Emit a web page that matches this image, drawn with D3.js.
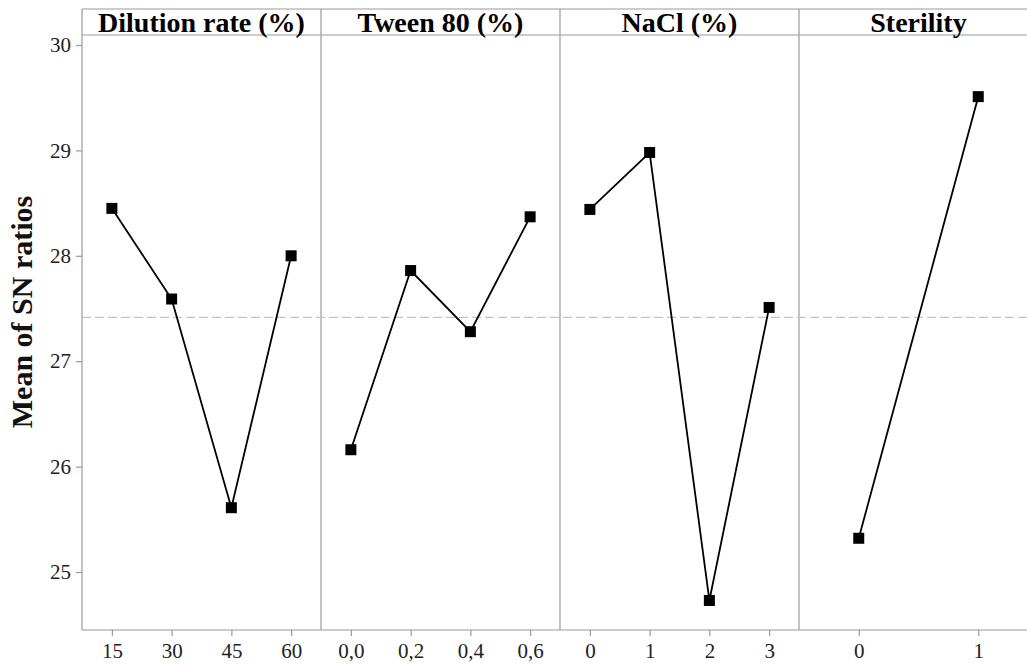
<!DOCTYPE html>
<html>
<head>
<meta charset="utf-8">
<script src="https://cdn.jsdelivr.net/npm/d3@7"></script>
<style>
  body { margin: 0; background: #fff; }
  svg { display: block; }
</style>
</head>
<body>
<div id="chart"></div>
<script>
// 因子和水平
const factors = ["Dilution rate (%)", "Tween 80 (%)", "NaCl (%)", "Sterility"];
const levels = [
  ["15", "30", "45", "60"],
  ["0,0", "0,2", "0,4", "0,6"],
  ["0", "1", "2", "3"],
  ["0", "1"]
];
// 各水平的 SN 比均值
const means = [
  [28.45, 27.59, 25.61, 28.00],
  [26.16, 27.86, 27.28, 28.37],
  [28.44, 28.98, 24.73, 27.51],
  [25.32, 29.51]
];
const grandMean = 27.415;
const yTicks = [25, 26, 27, 28, 29, 30];

const width = 1027, height = 664;
const padLeft = 82, headY0 = 9, headY1 = 35, plotBottom = 630, panelW = 239;
const frameCol = "#9a9a9a";
const serif = "'Liberation Serif', 'Times New Roman', serif";

const svg = d3.select("#chart").append("svg")
  .attr("width", width)
  .attr("height", height);

// y 比例尺
const y = d3.scaleLinear().domain([25, 30]).range([572, 45]);

// 面板边框
const padRight = padLeft + panelW * factors.length;
const frame = svg.append("g")
  .attr("fill", "none")
  .attr("stroke", frameCol)
  .attr("stroke-width", 1.2);
[headY0, headY1, plotBottom].forEach(yy => {
  frame.append("line").attr("x1", padLeft).attr("x2", padRight).attr("y1", yy).attr("y2", yy);
});
d3.range(factors.length + 1).forEach(i => {
  frame.append("line")
    .attr("x1", padLeft + i * panelW).attr("x2", padLeft + i * panelW)
    .attr("y1", headY0).attr("y2", plotBottom);
});

// 参考线（总均值）
svg.append("line")
  .attr("x1", padLeft).attr("x2", padRight)
  .attr("y1", y(grandMean)).attr("y2", y(grandMean))
  .attr("stroke", "#c4c4c4")
  .attr("stroke-width", 1.2)
  .attr("stroke-dasharray", "9,4");

// y 轴
const yAxis = svg.append("g")
  .attr("transform", `translate(${padLeft},0)`)
  .call(d3.axisLeft(y).tickValues(yTicks).tickSize(6).tickPadding(5).tickFormat(d3.format("d")));
yAxis.select(".domain").remove();
yAxis.selectAll("line").attr("stroke", frameCol).attr("stroke-width", 1.2);
yAxis.selectAll("text")
  .attr("font-family", serif)
  .attr("font-size", 21)
  .attr("fill", "#222");

// y 轴标题
svg.append("text")
  .attr("transform", "translate(32,312) rotate(-90)")
  .attr("text-anchor", "middle")
  .attr("font-family", serif)
  .attr("font-weight", "bold")
  .attr("font-size", 30)
  .attr("fill", "#111")
  .text("Mean of SN ratios");

// 各面板
factors.forEach((f, i) => {
  const x0 = padLeft + i * panelW;
  const x = d3.scalePoint()
    .domain(levels[i])
    .range([x0, x0 + panelW])
    .padding(0.5);

  // 面板标题
  svg.append("text")
    .attr("x", x0 + panelW / 2)
    .attr("y", 32)
    .attr("text-anchor", "middle")
    .attr("font-family", serif)
    .attr("font-weight", "bold")
    .attr("font-size", 28)
    .attr("fill", "#000")
    .text(f);

  // x 轴
  const xAxis = svg.append("g")
    .attr("transform", `translate(0,${plotBottom})`)
    .call(d3.axisBottom(x).tickSize(6).tickPadding(7));
  xAxis.select(".domain").remove();
  xAxis.selectAll("line").attr("stroke", frameCol).attr("stroke-width", 1.2);
  xAxis.selectAll("text")
    .attr("font-family", serif)
    .attr("font-size", 21)
    .attr("fill", "#222");

  const pts = levels[i].map((l, j) => ({ level: l, value: means[i][j] }));

  // 折线
  svg.append("path")
    .datum(pts)
    .attr("fill", "none")
    .attr("stroke", "#000")
    .attr("stroke-width", 1.8)
    .attr("d", d3.line().x(d => x(d.level)).y(d => y(d.value)));

  // 方形标记
  svg.append("g")
    .selectAll("rect")
    .data(pts)
    .join("rect")
    .attr("x", d => x(d.level) - 5.5)
    .attr("y", d => y(d.value) - 5.5)
    .attr("width", 11)
    .attr("height", 11)
    .attr("fill", "#000");
});
</script>
</body>
</html>
